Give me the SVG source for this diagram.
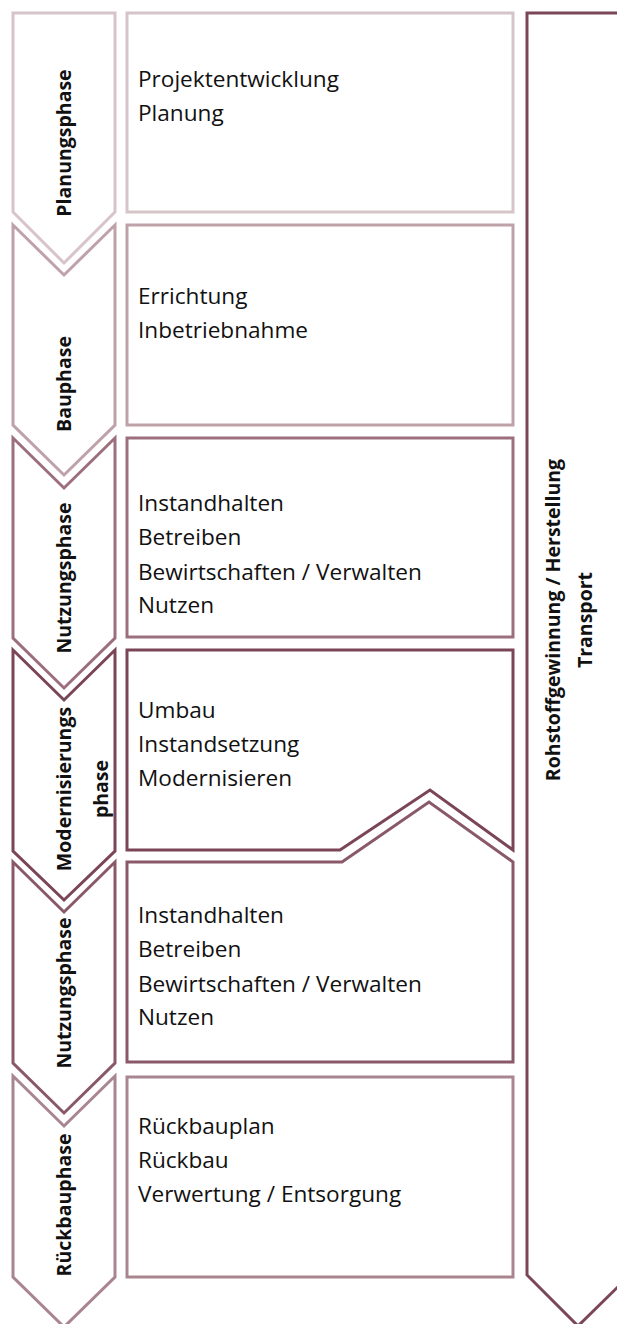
<svg xmlns="http://www.w3.org/2000/svg" width="617" height="1324" viewBox="0 0 617 1324">
<style>
.sh{fill:#fff;stroke-width:3;stroke-linejoin:miter}
.t{font-family:"Open Sans","Noto Sans",sans-serif;font-size:22.6px;fill:#111}
.l{font-family:"Open Sans","Noto Sans",sans-serif;font-size:19.5px;font-weight:bold;fill:#111;text-anchor:middle;dominant-baseline:central}
.c1{stroke:#d6c4c9}.c2{stroke:#bfa1aa}.c3{stroke:#9c6f7c}.c4{stroke:#7b4558}.c5{stroke:#89596a}.c6{stroke:#a8858f}.cr{stroke:#7b4659}
</style>
<rect width="617" height="1324" fill="#fff"/>
<g id="transport">
<path class="sh cr" d="M527,13 H630 V1275 L578,1326 L527,1275 Z"/>
<text class="l" transform="translate(552,620) rotate(-90)">Rohstoffgewinnung / Herstellung</text>
<text class="l" transform="translate(584,620) rotate(-90)">Transport</text>
</g>
<g id="planung">
<path class="sh c1" d="M13,13 H115 V212 L64,263 L13,212 Z"/>
<text class="l" transform="translate(63,143) rotate(-90)">Planungsphase</text>
<rect class="sh c1" x="127" y="13" width="386" height="199"/>
<text class="t" x="138" y="87">Projektentwicklung</text>
<text class="t" x="138" y="121">Planung</text>
</g>
<g id="bau">
<path class="sh c2" d="M13,225 L64,275 L115,225 V425 L64,475 L13,425 Z"/>
<text class="l" transform="translate(63,384) rotate(-90)">Bauphase</text>
<rect class="sh c2" x="127" y="225" width="386" height="200"/>
<text class="t" x="138" y="304">Errichtung</text>
<text class="t" x="138" y="338">Inbetriebnahme</text>
</g>
<g id="nutzung1">
<path class="sh c3" d="M13,438 L64,488 L115,438 V638 L64,688 L13,638 Z"/>
<text class="l" transform="translate(63,578) rotate(-90)">Nutzungsphase</text>
<rect class="sh c3" x="127" y="438" width="386" height="199"/>
<text class="t" x="138" y="511">Instandhalten</text>
<text class="t" x="138" y="545">Betreiben</text>
<text class="t" x="138" y="580">Bewirtschaften / Verwalten</text>
<text class="t" x="138" y="613">Nutzen</text>
</g>
<g id="modernisierung">
<path class="sh c4" d="M13,650 L64,700 L115,650 V851 L64,900 L13,851 Z"/>
<text class="l" transform="translate(63,789) rotate(-90)">Modernisierungs</text>
<text class="l" transform="translate(100,789) rotate(-90)">phase</text>
<path class="sh c4" d="M127,650 H513 V850 L430,790 L340,850 H127 Z"/>
<text class="t" x="138" y="718">Umbau</text>
<text class="t" x="138" y="752">Instandsetzung</text>
<text class="t" x="138" y="786">Modernisieren</text>
</g>
<g id="nutzung2">
<path class="sh c5" d="M13,862 L64,912 L115,862 V1063 L64,1113 L13,1063 Z"/>
<text class="l" transform="translate(63,993) rotate(-90)">Nutzungsphase</text>
<path class="sh c5" d="M127,862 H342 L429,802 L513,862 V1062 H127 Z"/>
<text class="t" x="138" y="923">Instandhalten</text>
<text class="t" x="138" y="957">Betreiben</text>
<text class="t" x="138" y="992">Bewirtschaften / Verwalten</text>
<text class="t" x="138" y="1025">Nutzen</text>
</g>
<g id="rueckbau">
<path class="sh c6" d="M13,1076 L64,1126 L115,1076 V1277 L64,1327 L13,1277 Z"/>
<text class="l" transform="translate(63,1205) rotate(-90)">Rückbauphase</text>
<rect class="sh c6" x="127" y="1077" width="386" height="200"/>
<text class="t" x="138" y="1134">Rückbauplan</text>
<text class="t" x="138" y="1168">Rückbau</text>
<text class="t" x="138" y="1202">Verwertung / Entsorgung</text>
</g>
<g id="connectors"></g>
</svg>
